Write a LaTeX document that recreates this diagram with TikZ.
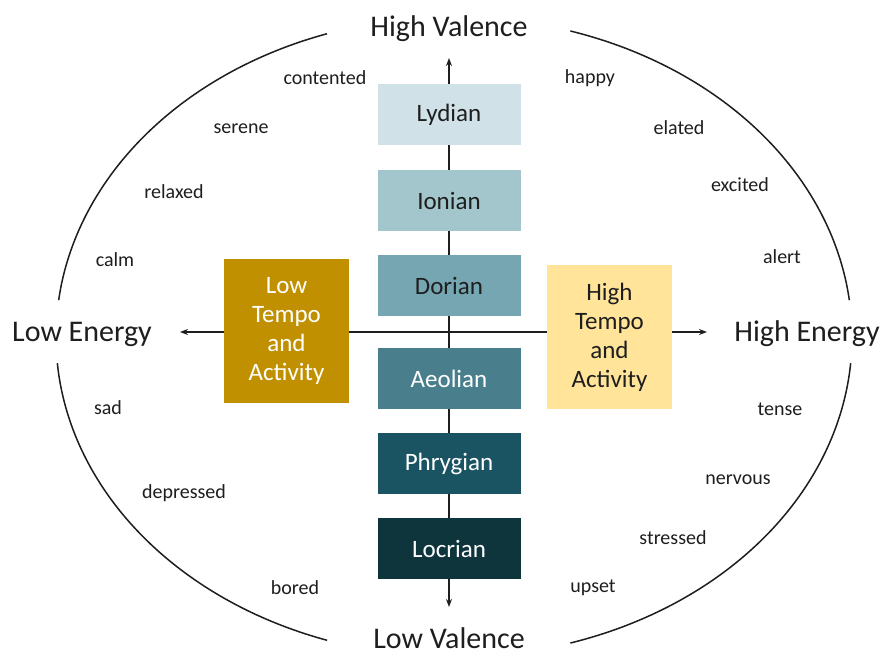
\documentclass[tikz,border=0pt]{standalone}
\usepackage{fontspec}
\setmainfont{Carlito}
\usetikzlibrary{arrows.meta}
\definecolor{txt}{HTML}{1E1E1E}
\definecolor{cLyd}{HTML}{D0E2E7}
\definecolor{cIon}{HTML}{A3C6CC}
\definecolor{cDor}{HTML}{75A6B1}
\definecolor{cAeo}{HTML}{497F8D}
\definecolor{cPhr}{HTML}{1A5462}
\definecolor{cLoc}{HTML}{0E343C}
\definecolor{cLow}{HTML}{C09000}
\definecolor{cHigh}{HTML}{FFE49A}
\begin{document}
\begin{tikzpicture}[x=1pt,y=-1pt,
  mode/.style={minimum width=143pt,minimum height=61pt,inner sep=0pt,font=\fontsize{25}{29}\selectfont},
  tempo/.style={minimum width=125pt,minimum height=144pt,inner sep=0pt,align=center,font=\fontsize{25}{29}\selectfont},
  word/.style={font=\fontsize{20}{24}\selectfont,text=txt},
  axislabel/.style={font=\fontsize{30}{36}\selectfont,text=txt,inner sep=1pt},
  axisline/.style={line width=1.5pt,draw=txt},
  arrowed/.style={axisline,-{Stealth[length=8pt,width=6pt]}},
  rim/.style={line width=1.5pt,draw=txt}]
\useasboundingbox[fill=white] (0,0) rectangle (888,656);

% ellipse arcs
\draw[rim] plot[domain=186.6:251.4,samples=60,smooth] ({454+398*cos(\x)},{337+320*sin(\x)});
\draw[rim] plot[domain=108.6:175.3,samples=60,smooth] ({454+398*cos(\x)},{337+320*sin(\x)});
\draw[rim] plot[domain=4.7:73,samples=60,smooth] ({454+398*cos(\x)},{337+320*sin(\x)});
\draw[rim] plot[domain=-73:-6.6,samples=60,smooth] ({454+398*cos(\x)},{337+320*sin(\x)});

% mode boxes
\node[mode,fill=cLyd,text=txt] (lyd) at (449,114.5) {Lydian};
\node[mode,fill=cIon,text=txt] (ion) at (449,200.5) {Ionian};
\node[mode,fill=cDor,text=txt] (dor) at (449,285.5) {Dorian};
\node[mode,fill=cAeo,text=white] (aeo) at (449,378.5) {Aeolian};
\node[mode,fill=cPhr,text=white] (phr) at (449,463.5) {Phrygian};
\node[mode,fill=cLoc,text=white] (loc) at (449,548.5) {Locrian};

% tempo boxes
\node[tempo,fill=cLow,text=white] (lt) at (286.5,331) {Low\\Tempo\\and\\Activity};
\node[tempo,fill=cHigh,text=txt] (ht) at (609.5,337) {High\\Tempo\\and\\Activity};

% axis ends
\coordinate (o) at (449,332);
\coordinate (vtop) at (449,58);
\coordinate (vbot) at (449,607);
\coordinate (ltip) at (180,332);
\coordinate (rtip) at (707,332);

% vertical axis
\draw[arrowed] (lyd.north) -- (vtop);
\draw[axisline] (lyd) -- (ion);
\draw[axisline] (ion) -- (dor);
\draw[axisline] (dor) -- (aeo);
\draw[axisline] (aeo) -- (phr);
\draw[axisline] (phr) -- (loc);
\draw[arrowed] (loc.south) -- (vbot);

% horizontal axis
\draw[arrowed] (lt.west |- o) -- (ltip);
\draw[axisline] (lt.east |- o) -- (ht.west |- o);
\draw[arrowed] (ht.east |- o) -- (rtip);

% axis labels
\node[axislabel] (hv) at (449,29) {High Valence};
\node[axislabel] (lv) at (449,638.5) {Low Valence};
\node[axislabel] (le) at (82,334) {Low Energy};
\node[axislabel] (he) at (807,334) {High Energy};

% words
\node[word] (w1) at (325,78) {contented};
\node[word] (w2) at (241,129) {serene};
\node[word] (w3) at (174,192) {relaxed};
\node[word] (w4) at (115,260) {calm};
\node[word] (w5) at (108,408) {sad};
\node[word] (w6) at (184,493) {depressed};
\node[word] (w7) at (295,588) {bored};
\node[word] (w8) at (590,78) {happy};
\node[word] (w9) at (679,128) {elated};
\node[word] (w10) at (740,185) {excited};
\node[word] (w11) at (782,257) {alert};
\node[word] (w12) at (780,409) {tense};
\node[word] (w13) at (738,480) {nervous};
\node[word] (w14) at (673,538) {stressed};
\node[word] (w15) at (593,588) {upset};
\end{tikzpicture}
\end{document}
